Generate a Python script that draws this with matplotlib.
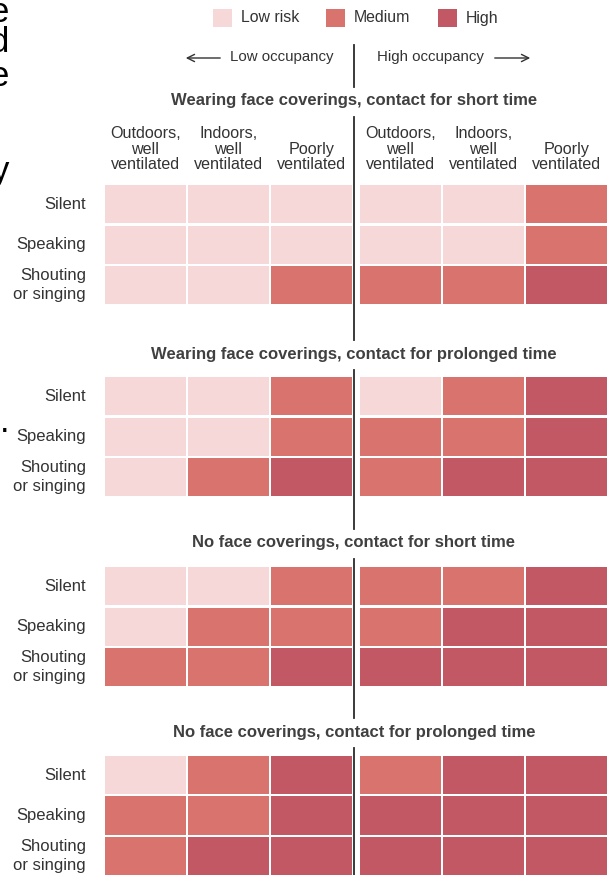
#!/usr/bin/env python3
# -*- coding: utf-8 -*-

import matplotlib

matplotlib.use("Agg")
import matplotlib.pyplot as plt

# risk levels: 0 = low, 1 = medium, 2 = high
RISK_LEVELS = ["Low risk", "Medium", "High"]
RISK_COLORS = ["#f6d8d9", "#d8736d", "#c15863"]

COLUMN_LABELS = [
    "Outdoors,\nwell\nventilated",
    "Indoors,\nwell\nventilated",
    "Poorly\nventilated",
    "Outdoors,\nwell\nventilated",
    "Indoors,\nwell\nventilated",
    "Poorly\nventilated",
]
ROW_LABELS = ["Silent", "Speaking", "Shouting\nor singing"]

PANEL_TITLES = [
    "Wearing face coverings, contact for short time",
    "Wearing face coverings, contact for prolonged time",
    "No face coverings, contact for short time",
    "No face coverings, contact for prolonged time",
]

wearing_short = [
    [0, 0, 0, 0, 0, 1],
    [0, 0, 0, 0, 0, 1],
    [0, 0, 1, 1, 1, 2],
]
wearing_prolonged = [
    [0, 0, 1, 0, 1, 2],
    [0, 0, 1, 1, 1, 2],
    [0, 1, 2, 1, 2, 2],
]
bare_short = [
    [0, 0, 1, 1, 1, 2],
    [0, 1, 1, 1, 2, 2],
    [1, 1, 2, 2, 2, 2],
]
bare_prolonged = [
    [0, 1, 2, 1, 2, 2],
    [1, 1, 2, 2, 2, 2],
    [1, 2, 2, 2, 2, 2],
]
PANELS = [wearing_short, wearing_prolonged, bare_short, bare_prolonged]

# bits of text from the neighbouring page column, cut at the left edge
EDGE_TEXT = ["e", "d", "e", "y", "."]

W, H = 613, 875
TEXT = "#333333"
FONT = "Liberation Sans"

fig = plt.figure(figsize=(W / 100, H / 100), dpi=100)
fig.patch.set_facecolor("white")


def px_box(left, top, width, height):
    return [left / W, 1 - (top + height) / H, width / W, height / H]


panel_tops = [185, 377, 567, 756]
title_ys = [101, 354, 543, 732]
grid_left, grid_right = 105, 607
row_px = 40.5
cell_w, cell_h = 0.975, 0.94
group_gap = 0.07
n_cols = len(COLUMN_LABELS)
x_max = n_cols - 1 + group_gap + cell_w

for k, values in enumerate(PANELS):
    height = (len(ROW_LABELS) - 1 + cell_h) * row_px
    ax = fig.add_axes(px_box(grid_left, panel_tops[k], grid_right - grid_left, height))
    ax.set_xlim(0, x_max)
    ax.set_ylim(len(ROW_LABELS) - 1 + cell_h, 0)
    ax.set_axis_off()

    for r, row in enumerate(values):
        lefts = [c + (group_gap if c >= 3 else 0) for c in range(len(row))]
        ax.bar(lefts, [cell_h] * len(row), bottom=r, width=cell_w, align="edge",
               color=[RISK_COLORS[v] for v in row], linewidth=0)
        ax.text(-0.23, r + cell_h / 2, ROW_LABELS[r], ha="right", va="center",
                fontsize=12, color=TEXT, family=FONT, linespacing=1.27)

    if k == 0:
        for c, label in enumerate(COLUMN_LABELS):
            xc = c + (group_gap if c >= 3 else 0) + cell_w / 2
            ax.text(xc, -0.32, label, ha="center", va="bottom", fontsize=11.6,
                    color=TEXT, family=FONT, linespacing=1.04, multialignment="center")

# overlay in pixel coordinates for legend, titles and the occupancy divider
ov = fig.add_axes([0, 0, 1, 1])
ov.set_xlim(0, W)
ov.set_ylim(H, 0)
ov.set_axis_off()
ov.patch.set_visible(False)

legend_x = [213, 326, 438]
for x, label, color in zip(legend_x, RISK_LEVELS, RISK_COLORS):
    ov.add_patch(plt.Rectangle((x, 9), 19, 18, color=color, lw=0))
    ov.text(x + 28, 18, label, ha="left", va="center", fontsize=11.4,
            color=TEXT, family=FONT)

ov.text(334, 57, "Low occupancy", ha="right", va="center", fontsize=10.8,
        color=TEXT, family=FONT)
ov.text(377, 57, "High occupancy", ha="left", va="center", fontsize=10.8,
        color=TEXT, family=FONT)
arrow = dict(arrowstyle="->", lw=1.0, color=TEXT, mutation_scale=13)
ov.annotate("", xy=(183, 58), xytext=(223, 58), arrowprops=arrow)
ov.annotate("", xy=(533, 58), xytext=(492, 58), arrowprops=arrow)

div_x = 354
y_start = 45
for ty in title_ys:
    ov.plot([div_x, div_x], [y_start, ty - 14], color="#2b2b2b", lw=1.3)
    y_start = ty + 16
ov.plot([div_x, div_x], [y_start, H], color="#2b2b2b", lw=1.3)

for ty, title in zip(title_ys, PANEL_TITLES):
    ov.text(div_x, ty, title, ha="center", va="center", fontsize=12,
            fontweight="bold", color="#404040", family=FONT)

for ch, y in zip(EDGE_TEXT, [13, 43, 77, 172, 422]):
    ov.text(9, y, ch, ha="right", va="center", fontsize=25, color="black",
            family=FONT)

fig.savefig("out.png", dpi=100)
plt.close(fig)
